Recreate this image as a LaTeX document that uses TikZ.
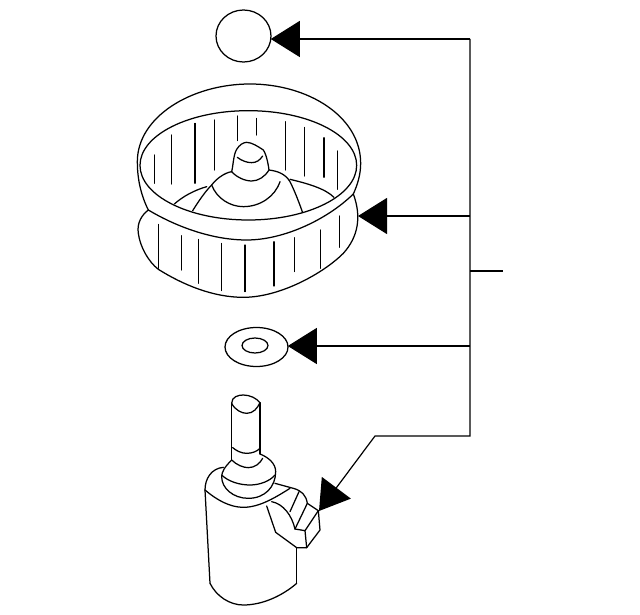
\documentclass[tikz,border=0pt]{standalone}
\usetikzlibrary{arrows.meta,shapes.geometric}
\newlength{\du}
\setlength{\du}{1pt}
\tikzset{
  partline/.style={line width=1.25\du,line join=round,line cap=round},
  ribline/.style={line width=1.05\du,line cap=round},
  partround/.style={draw,ellipse,line width=1.25\du,inner sep=0pt,outer sep=0pt},
  leaderline/.style={line width=1.2\du,line join=miter,-{Triangle[length=29pt,width=36pt]}},
  stubline/.style={line width=1.2\du,line join=miter}
}
\begin{document}
\begin{tikzpicture}[x=\du,y=\du]
\pgftransformxscale{1.000000}
\pgftransformyscale{-1.000000}
\definecolor{dialinecolor}{rgb}{0.000000, 0.000000, 0.000000}
\pgfsetstrokecolor{dialinecolor}
\useasboundingbox (0,0) rectangle (640,615);
% small cap
\node[partround,minimum width=55\du,minimum height=52\du] (cap) at (243.5,36) {};
% washer
\node[partround,minimum width=63\du,minimum height=39\du] (washer) at (256.5,347) {};
\node[partround,minimum width=26\du,minimum height=15\du] (washerhole) at (255,345.5) {};
% blower wheel
\begin{scope}[shift={(120,70)},x=0.333333\du,y=0.333333\du]
\draw[partline] (85,420) .. controls (60,370) and (52,320) .. (52,275) .. controls (52,140) and (215,42) .. (390,42) .. controls (565,42) and (722,140) .. (722,280) .. controls (722,315) and (712,345) .. (700,372);
\draw[partline] (85,420) .. controls (160,465) and (270,510) .. (380,510) .. controls (490,510) and (620,450) .. (700,372);
\draw[partline] (385,286) ellipse (325 and 164);
\draw[partline] (85,420) .. controls (65,435) and (50,460) .. (55,490) .. controls (60,530) and (85,575) .. (115,598) .. controls (190,645) and (280,682) .. (370,682) .. controls (480,682) and (610,610) .. (670,550) .. controls (715,500) and (725,440) .. (700,372);
\foreach \x/\a/\b in {103/255/340,155/195/342,225/160/340,283/150/300,352/138/212,409/145/195,496/155/300,553/172/318,612/203/322,652/243/358,115/463/595,185/497/600,235/508/640,305/520/662,375/525/665,462/515/648,524/503/605,601/480/595,658/438/532}
  \draw[ribline] (\x,\a)--(\x,\b);
% hub
\draw[partline] (335,305) .. controls (340,285) and (340,255) .. (350,238) .. controls (358,225) and (370,217) .. (380,217) .. controls (395,217) and (415,230) .. (430,240) .. controls (440,255) and (445,285) .. (447,300);
\draw[partline] (335,305) .. controls (350,322) and (375,333) .. (395,333) .. controls (415,333) and (435,320) .. (447,300);
\draw[partline] (352,262) .. controls (365,272) and (380,278) .. (395,278) .. controls (410,278) and (420,270) .. (428,258);
\draw[partline] (218,422) .. controls (235,395) and (255,365) .. (275,345) .. controls (290,325) and (315,308) .. (335,305);
\draw[partline] (447,300) .. controls (470,303) and (495,310) .. (510,335) .. controls (525,365) and (538,400) .. (548,428);
\draw[partline] (275,345) .. controls (290,385) and (330,410) .. (370,410) .. controls (420,410) and (465,380) .. (480,335);
\draw[partline] (163,402) .. controls (190,378) and (225,360) .. (260,350);
\draw[partline] (510,328) .. controls (560,340) and (615,355) .. (642,382);
\end{scope}
% motor
\begin{scope}[shift={(180,380)},x=0.333333\du,y=0.333333\du]
\draw[partline] (155,70) .. controls (155,50) and (175,45) .. (190,45) .. controls (210,45) and (230,55) .. (240,68);
\draw[partline] (155,70) .. controls (165,90) and (185,100) .. (200,100) .. controls (220,100) and (232,85) .. (240,68);
\draw[partline] (155,70)--(155,240);
\draw[partline] (240,68)--(240,222);
\draw[partline] (158,203) .. controls (170,213) and (185,220) .. (200,220) .. controls (215,220) and (230,215) .. (240,205);
\draw[partline] (155,240) .. controls (135,260) and (125,275) .. (125,290) .. controls (125,325) and (160,355) .. (205,355) .. controls (255,355) and (287,320) .. (287,275) .. controls (287,250) and (265,232) .. (240,222);
\draw[partline] (155,240) .. controls (170,255) and (190,263) .. (205,263) .. controls (225,263) and (240,250) .. (248,235);
\draw[partline] (125,285) .. controls (145,305) and (180,315) .. (210,315) .. controls (240,315) and (270,303) .. (285,285);
\draw[partline] (130,262) .. controls (95,265) and (75,295) .. (75,330);
\draw[partline] (75,330)--(90,610);
\draw[partline] (90,610) .. controls (110,650) and (150,675) .. (190,675) .. controls (250,675) and (310,645) .. (350,610);
\draw[partline] (350,610)--(350,505);
\draw[partline] (75,330) .. controls (110,360) and (150,382) .. (190,382) .. controls (240,382) and (290,350) .. (330,325);
\draw[partline] (285,310)--(340,325) .. controls (365,332) and (378,345) .. (382,370)--(415,392)--(420,450)--(380,503)--(350,503)--(287,457)--(260,378);
\draw[partline] (275,365) .. controls (310,372) and (335,405) .. (345,447);
\draw[partline] (345,447)--(375,452)--(380,503);
\draw[partline] (330,395)--(357,335);
\draw[partline] (345,447)--(382,370);
\draw[partline] (375,452)--(415,392);
\end{scope}
\coordinate (wheeltip) at (358,216);
\coordinate (motortip) at (319,511);
% leader lines
\coordinate (trunktop) at (470,39);
\coordinate (trunkwheel) at (470,216);
\coordinate (trunkstub) at (470,271);
\coordinate (stubend) at (503,271);
\coordinate (trunkwasher) at (470,346);
\coordinate (trunkend) at (470,436);
\coordinate (bend) at (375,436);
\coordinate (captip) at (cap.-7);
\coordinate (washertip) at (washer.4);
\draw[leaderline] (trunktop)--(captip |- trunktop);
\draw[leaderline] (trunkwheel)--(wheeltip);
\draw[leaderline] (trunkwasher)--(washertip |- trunkwasher);
\draw[leaderline] (trunktop)--(trunkend)--(bend)--(motortip);
\draw[stubline] (trunkstub)--(stubend);
\end{tikzpicture}
\end{document}
